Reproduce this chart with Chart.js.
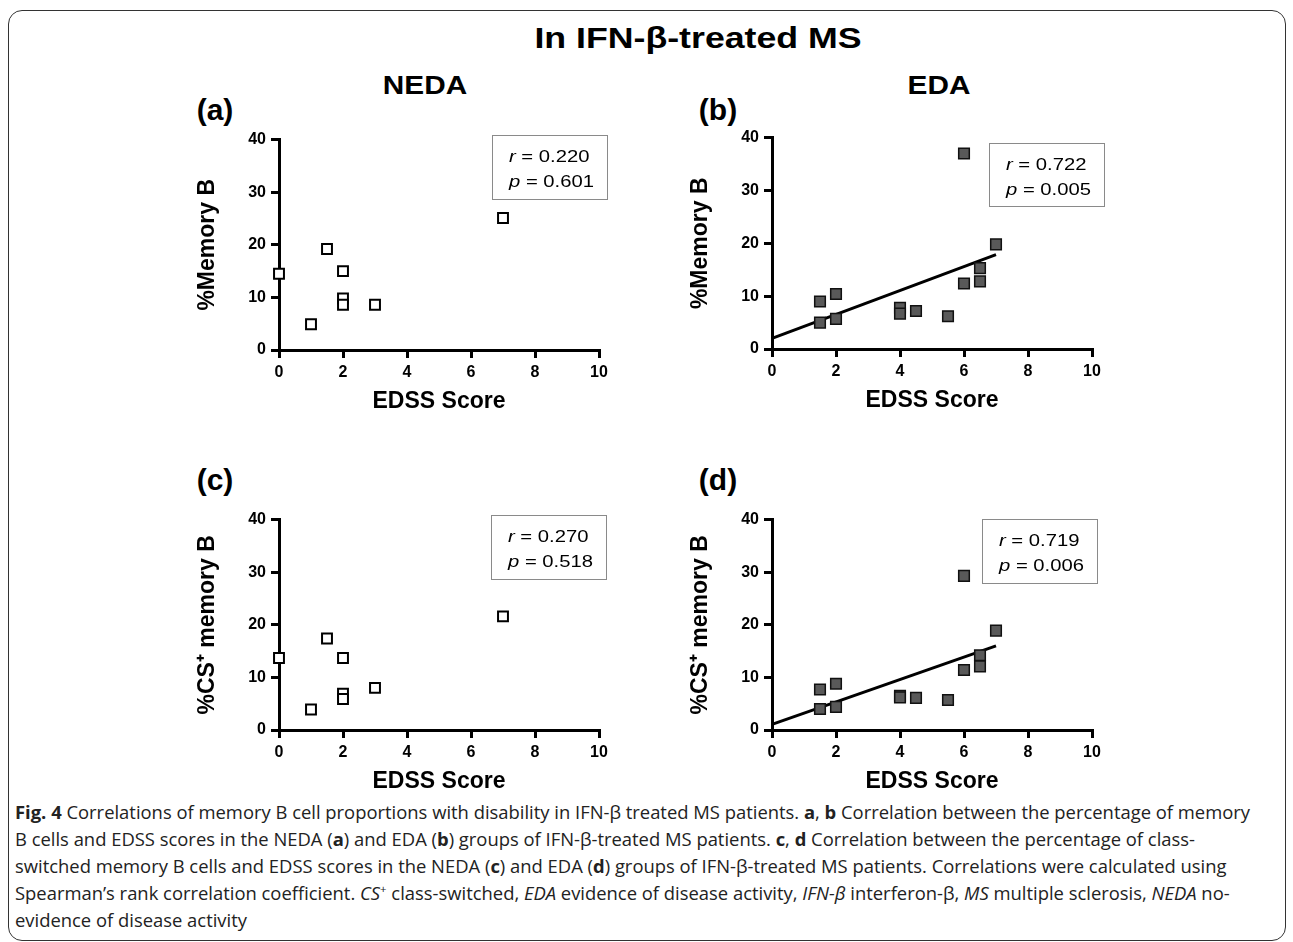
<!DOCTYPE html>
<html>
<head>
<meta charset="utf-8">
<script src="https://cdn.jsdelivr.net/npm/chart.js@4.4.0/dist/chart.umd.min.js"></script>
<style>
  body { margin: 0; background: #fff; width: 1293px; height: 942px; position: relative; overflow: hidden;
         font-family: Arial, "Liberation Sans", sans-serif; color: #000; }
  .frame { position: absolute; left: 8px; top: 10px; width: 1278px; height: 931px; border: 1.5px solid #333;
           border-radius: 14px; box-sizing: border-box; }
  .lbl { position: absolute; font-weight: bold; white-space: nowrap; line-height: 1; }
  .wide { transform: translate(-50%, -50%) scaleX(1.19); }
  .narrow { transform: translate(-50%, -50%); }
  canvas { position: absolute; }
  .stat { position: absolute; border: 1.5px solid #8a8a8a; background: #fff; box-sizing: border-box;
          padding: 8px 0 0 16px; font-size: 17px; line-height: 25px; }
  .stat div { transform: scaleX(1.19); transform-origin: left center; white-space: nowrap; }
  .caption { position: absolute; left: 15px; top: 799px; font-family: "Open Sans", sans-serif; font-size: 18px;
             line-height: 27px; color: #222; transform-origin: left top; }
  .caption div { white-space: nowrap; }
  .caption sup { font-size: 11px; line-height: 0; }
</style>
</head>
<body>
<div class="frame"></div>

<div class="lbl wide" style="left:698px; top:38px; font-size:30px;">In IFN-β-treated MS</div>
<div class="lbl wide" style="left:425px; top:85px; font-size:25px;">NEDA</div>
<div class="lbl wide" style="left:939px; top:85px; font-size:25px;">EDA</div>
<div class="lbl narrow" style="left:215px; top:110px; font-size:30px;">(a)</div>
<div class="lbl narrow" style="left:718px; top:110px; font-size:30px;">(b)</div>
<div class="lbl narrow" style="left:215px; top:480px; font-size:30px;">(c)</div>
<div class="lbl narrow" style="left:718px; top:480px; font-size:30px;">(d)</div>

<canvas id="chartA" width="425" height="294" style="left:190px; top:125px;"></canvas>
<canvas id="chartB" width="425" height="295" style="left:683px; top:123px;"></canvas>
<canvas id="chartC" width="425" height="294" style="left:190px; top:505px;"></canvas>
<canvas id="chartD" width="425" height="294" style="left:683px; top:505px;"></canvas>

<div class="stat" id="statA" style="left:492px; top:135px; width:116px; height:65px;"></div>
<div class="stat" id="statB" style="left:989px; top:143px; width:116px; height:64px;"></div>
<div class="stat" id="statC" style="left:491px; top:515px; width:116px; height:65px;"></div>
<div class="stat" id="statD" style="left:982px; top:519px; width:116px; height:65px;"></div>

<div class="caption" id="caption">
  <div><b>Fig. 4</b> Correlations of memory B cell proportions with disability in IFN-β treated MS patients. <b>a</b>, <b>b</b> Correlation between the percentage of memory</div>
  <div>B cells and EDSS scores in the NEDA (<b>a</b>) and EDA (<b>b</b>) groups of IFN-β-treated MS patients. <b>c</b>, <b>d</b> Correlation between the percentage of class-</div>
  <div>switched memory B cells and EDSS scores in the NEDA (<b>c</b>) and EDA (<b>d</b>) groups of IFN-β-treated MS patients. Correlations were calculated using</div>
  <div>Spearman’s rank correlation coefficient. <i>CS</i><sup>+</sup> class-switched, <i>EDA</i> evidence of disease activity, <i>IFN-β</i> interferon-β, <i>MS</i> multiple sclerosis, <i>NEDA</i> no-</div>
  <div>evidence of disease activity</div>
</div>

<script>
// tick values
var xTicks = [0, 2, 4, 6, 8, 10];
var yTicks = [0, 10, 20, 30, 40];

// NEDA group (open squares)
var nedaEdss = [0, 1, 1.5, 2, 2, 2, 3, 7];
var nedaMemB = [14.5, 4.9, 19.2, 15.0, 9.8, 8.6, 8.6, 25.1];
var nedaCsMemB = [13.7, 3.9, 17.4, 13.7, 6.9, 5.9, 8.0, 21.6];

// EDA group (filled squares)
var edaEdss = [1.5, 1.5, 2, 2, 4, 4, 4.5, 5.5, 6, 6, 6.5, 6.5, 7];
var edaMemB = [9.0, 5.0, 10.4, 5.7, 7.8, 6.7, 7.2, 6.2, 37.0, 12.4, 15.3, 12.8, 19.8];
var edaCsMemB = [7.7, 4.0, 8.8, 4.4, 6.5, 6.2, 6.1, 5.7, 29.3, 11.4, 14.2, 12.1, 18.9];

// Spearman results per panel (a, b, c, d)
var panelR = ['0.220', '0.722', '0.270', '0.719'];
var panelP = ['0.601', '0.005', '0.518', '0.006'];

var axisFont = 'Arial, "Liberation Sans", sans-serif';

// least squares line, drawn from x = 0 to the largest x
function fitLine(xs, ys) {
    var n = xs.length, mx = 0, my = 0;
    for (var i = 0; i < n; i++) { mx += xs[i]; my += ys[i]; }
    mx /= n; my /= n;
    var sxy = 0, sxx = 0;
    for (var j = 0; j < n; j++) {
        sxy += (xs[j] - mx) * (ys[j] - my);
        sxx += (xs[j] - mx) * (xs[j] - mx);
    }
    var slope = sxy / sxx, icpt = my - slope * mx;
    var xEnd = Math.max.apply(null, xs);
    return [{ x: 0, y: icpt }, { x: xEnd, y: icpt + slope * xEnd }];
}

function axis(ticks, min, max, title, fitFn) {
    return {
        type: 'linear', min: min, max: max,
        afterBuildTicks: function(s) { s.ticks = ticks.map(function(v) { return { value: v }; }); },
        afterFit: fitFn,
        grid: { display: true, drawOnChartArea: false, drawTicks: true, tickLength: 8, lineWidth: 3, color: '#000' },
        border: { display: true, color: '#000', width: 3 },
        ticks: { color: '#000', padding: 5, maxRotation: 0, font: { family: axisFont, size: 16, weight: 'bold' } },
        title: { display: true, text: title, color: '#000', padding: { top: 4, bottom: 4 },
                 font: { family: axisFont, size: 23, weight: 'bold' } }
    };
}

function makePanel(canvasId, xs, ys, filled, yTitle, withFit) {
    var pts = xs.map(function(x, i) { return { x: x, y: ys[i] }; });
    var datasets = [{
        data: pts,
        pointStyle: 'rect',
        pointRadius: filled ? 7.5 : 7,
        pointHoverRadius: filled ? 7.5 : 7,
        pointBackgroundColor: filled ? '#595959' : '#fff',
        pointBorderColor: filled ? '#111' : '#000',
        pointBorderWidth: filled ? 1.5 : 2,
        clip: false
    }];
    if (withFit) {
        datasets.push({
            data: fitLine(xs, ys),
            showLine: true,
            borderColor: '#000',
            borderWidth: 3,
            pointRadius: 0,
            clip: false
        });
    }
    var ctx = document.getElementById(canvasId).getContext('2d');
    return new Chart(ctx, {
        type: 'scatter',
        data: { datasets: datasets },
        options: {
            responsive: false,
            animation: false,
            layout: { padding: { top: 12, right: 16, left: 0, bottom: 0 } },
            plugins: { legend: { display: false }, tooltip: { enabled: false } },
            scales: {
                x: axis(xTicks, 0, 10, 'EDSS Score', function(s) { s.height = 69; }),
                y: axis(yTicks, 0, 40, yTitle, function(s) { s.width = 89; })
            }
        }
    });
}

makePanel('chartA', nedaEdss, nedaMemB, false, '%Memory B', false);
makePanel('chartB', edaEdss, edaMemB, true, '%Memory B', true);
makePanel('chartC', nedaEdss, nedaCsMemB, false, '%CS\u207A memory B', false);
makePanel('chartD', edaEdss, edaCsMemB, true, '%CS\u207A memory B', true);

// r / p boxes
['statA', 'statB', 'statC', 'statD'].forEach(function(id, i) {
    document.getElementById(id).innerHTML =
        '<div><i>r</i> = ' + panelR[i] + '</div><div><i>p</i> = ' + panelP[i] + '</div>';
});

// fit the caption's first line to the figure width
var cap = document.getElementById('caption');
var w = cap.firstElementChild.getBoundingClientRect().width;
cap.style.transform = 'scaleX(' + (1235 / w) + ')';
</script>
</body>
</html>
